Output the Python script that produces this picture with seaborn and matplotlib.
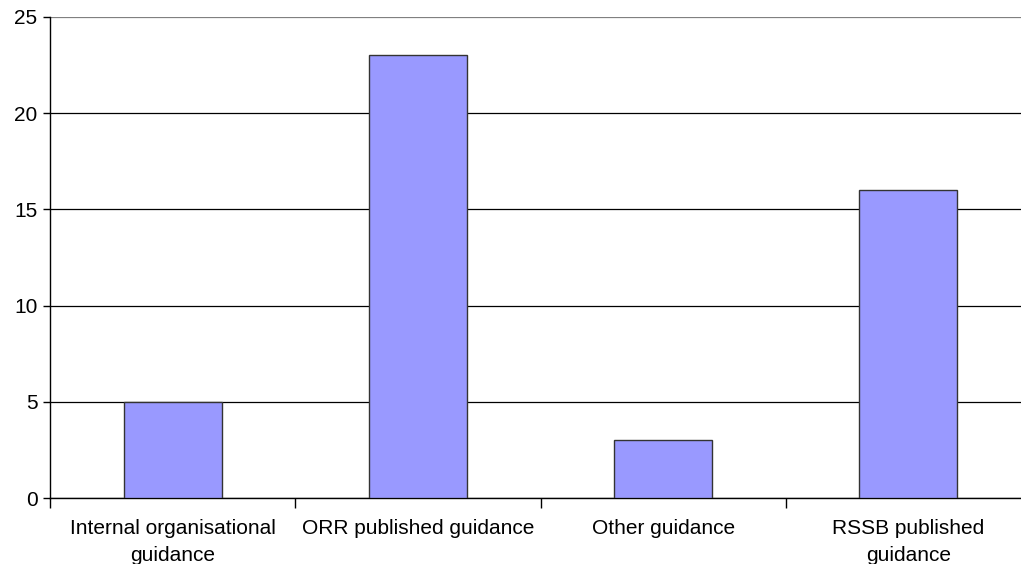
import matplotlib
matplotlib.use("Agg")
import matplotlib.pyplot as plt
import seaborn as sns
import pandas as pd

categories = ["Internal organisational\nguidance", "ORR published guidance", "Other guidance", "RSSB published\nguidance"]
values = [5, 23, 3, 16]

sns.set_style("white")
plt.rcParams['font.family'] = ['Liberation Sans', 'DejaVu Sans']

fig = plt.figure(figsize=(10.21, 5.64), dpi=100)
W, H = 1021, 564
ax = fig.add_axes([50 / W, (H - 498) / H, 981 / W, (498 - 17) / H])

df = pd.DataFrame({"cat": categories, "val": values})
sns.barplot(data=df, x="cat", y="val", color="#9999FF", saturation=1, width=0.4,
            edgecolor="#333333", linewidth=1.0, ax=ax, zorder=3)

ax.set_xlim(-0.5, 3.5)
ax.set_ylim(0, 25)
ax.set_yticks([0, 5, 10, 15, 20, 25])
ax.yaxis.grid(True, color="#000000", linewidth=0.9, zorder=0)
ax.set_axisbelow(True)
gl = ax.get_ygridlines()
gl[-1].set_color("#808080")
ax.set_xlabel("")
ax.set_ylabel("")

for s in ["top", "right"]:
    ax.spines[s].set_visible(False)
for s in ["left", "bottom"]:
    ax.spines[s].set_color("#000000")
    ax.spines[s].set_linewidth(1.0)

ax.tick_params(axis="y", which="major", length=5, width=1, color="#000000",
               labelsize=15, pad=4, left=True, labelcolor="#000000")
ax.tick_params(axis="x", which="major", length=0, labelsize=15, pad=15, labelcolor="#000000")
ax.set_xticks([-0.5, 0.5, 1.5, 2.5, 3.5], minor=True)
ax.tick_params(axis="x", which="minor", length=7, width=1, color="#000000", bottom=True)
for lab in ax.get_xticklabels():
    lab.set_linespacing(1.55)

fig.savefig("out.png", dpi=100, facecolor="white")
